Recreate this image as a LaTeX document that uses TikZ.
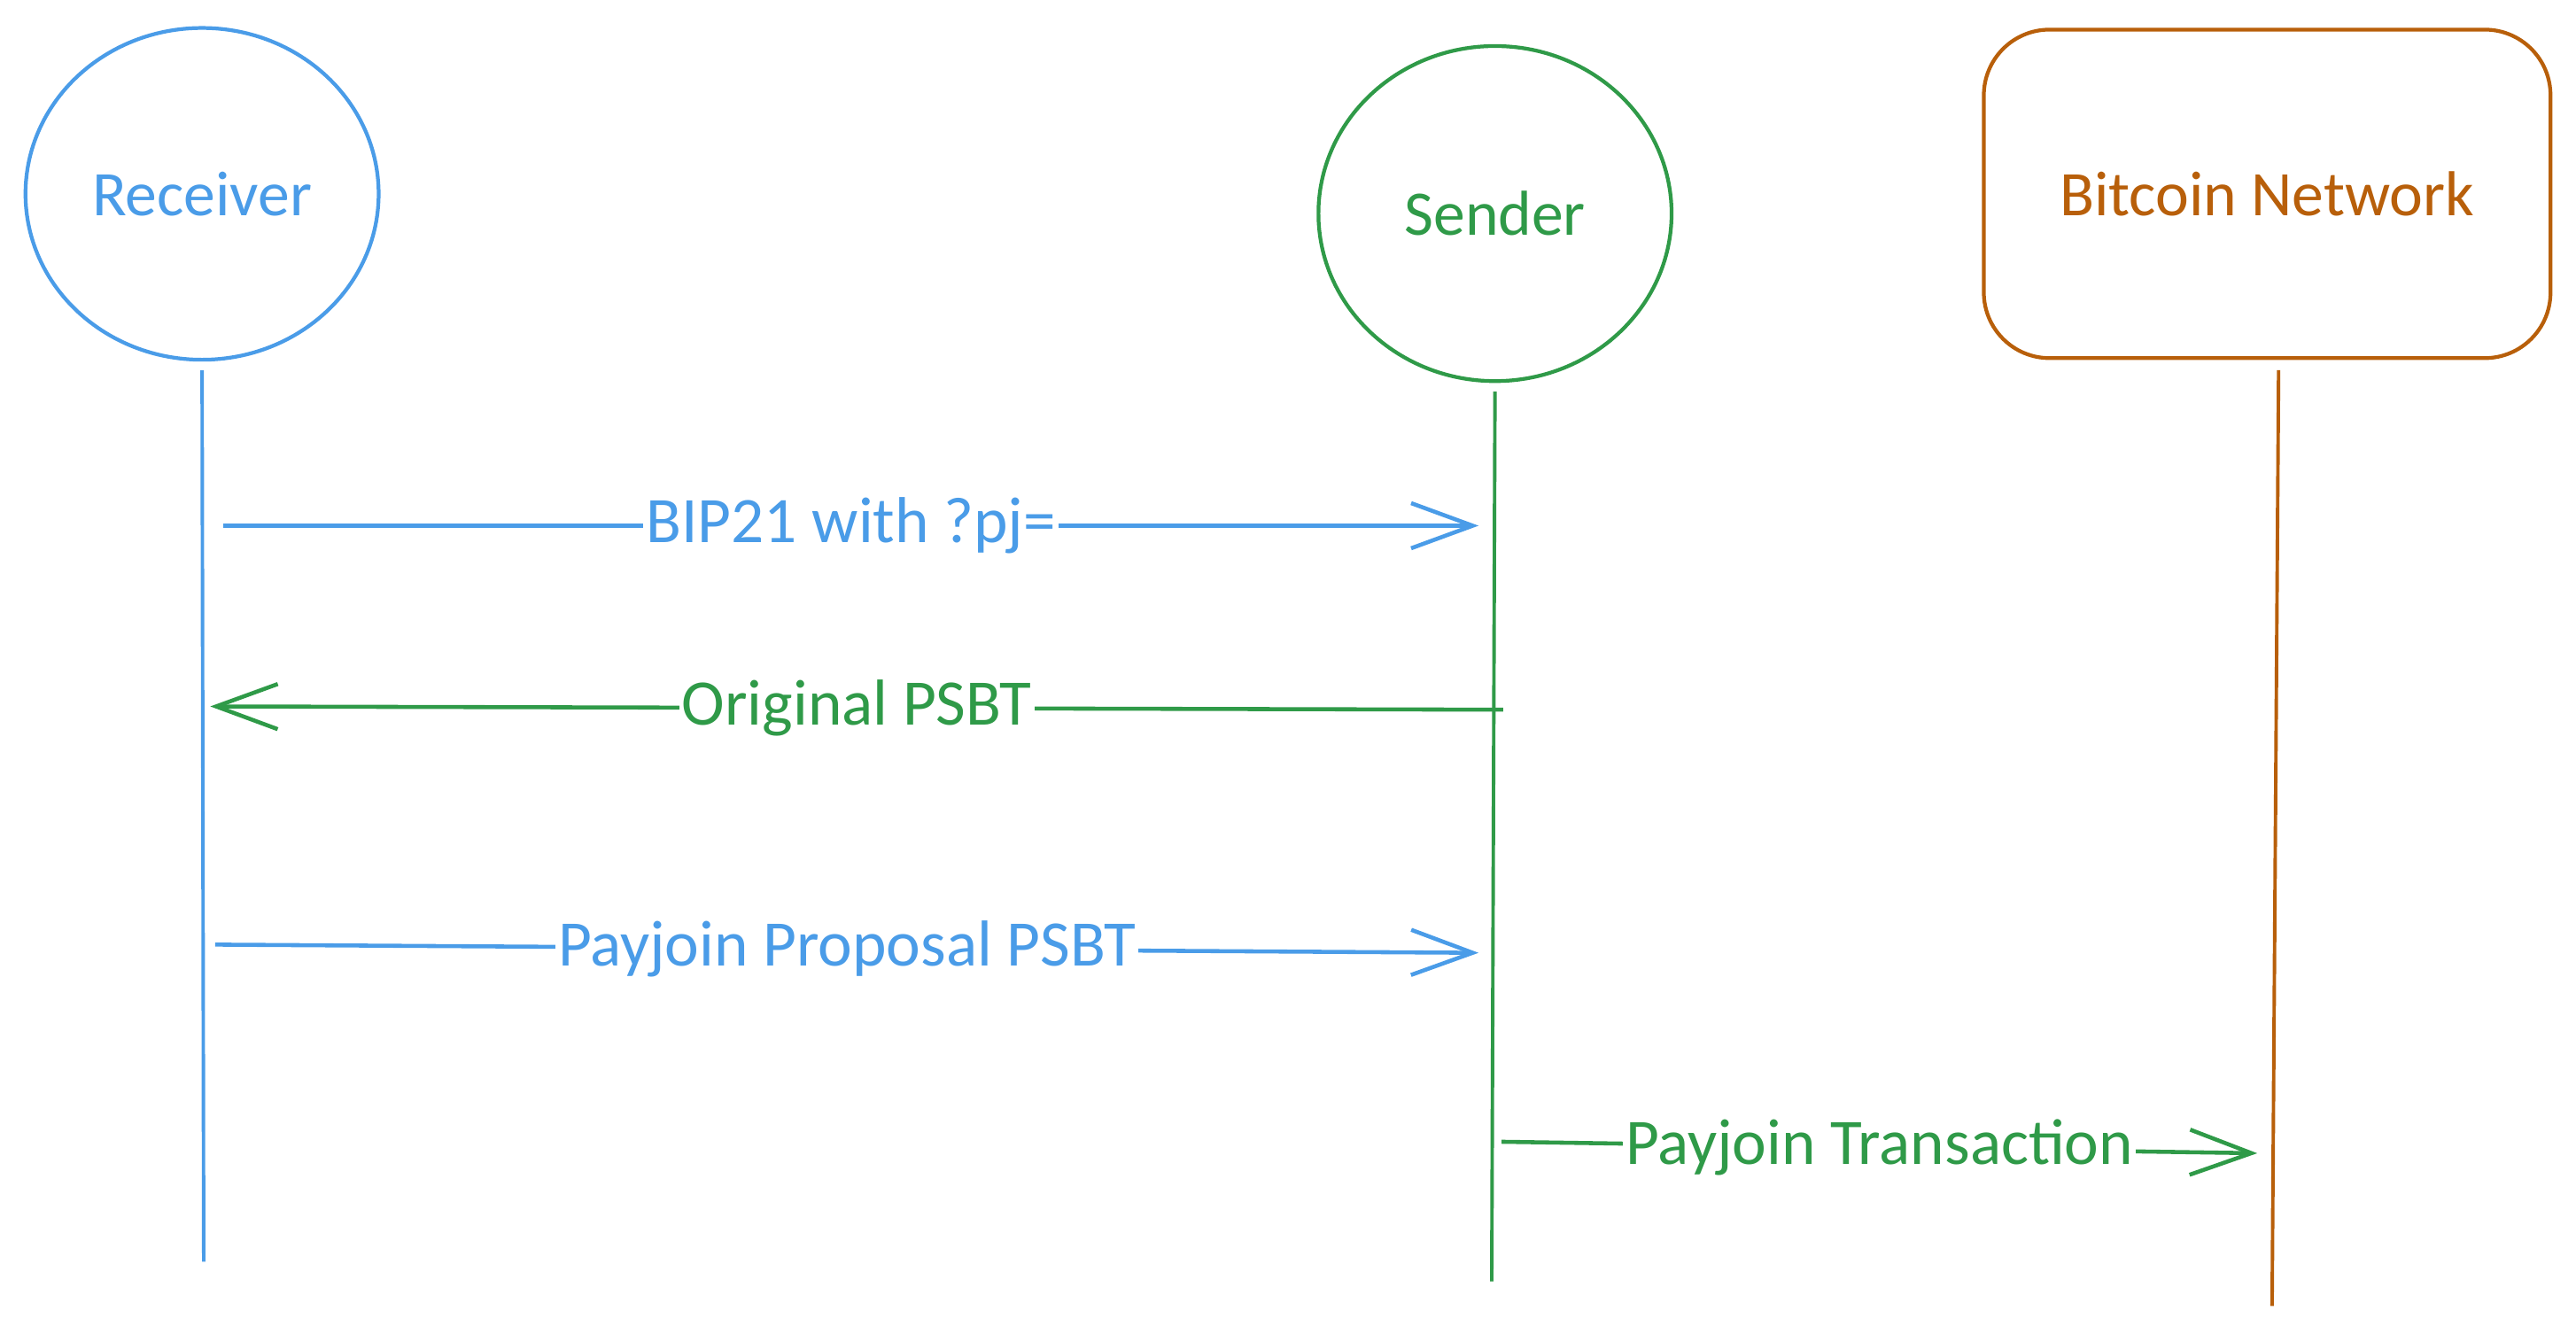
\documentclass[tikz,border=0pt]{standalone}
\usepackage{fontspec}
\setmainfont{Carlito}
\usetikzlibrary{arrows.meta,%
                shapes.geometric}
\definecolor{recblue}{HTML}{4A9CE8}
\definecolor{sndgreen}{HTML}{2F9A48}
\definecolor{netorange}{HTML}{B85F0A}

\begin{document}
\begin{tikzpicture}[x=0.02cm,y=-0.02cm]
		\useasboundingbox (0,0) rectangle (1568,812);
		\tikzset{ActorStyle/.style = {draw,line width=1.3pt,inner sep=0pt,font=\fontsize{22}{26}\selectfont},
			LifeStyle/.style = {line width=1.2pt,shorten <=3pt},
			EdgeStyle/.style = {line width=1.4pt,-{Straight Barb[length=0.75cm,width=0.55cm]}},
			LabelStyle/.style = {fill=white,inner sep=1pt,font=\fontsize{22.5}{26}\selectfont}}
		% actors
		\node[ActorStyle,ellipse,recblue,minimum width=4.3cm,minimum height=4.04cm] (Rec) at (123,118) {Receiver};
		\node[ActorStyle,ellipse,sndgreen,minimum width=4.3cm,minimum height=4.08cm] (Snd) at (910,130) {Sender};
		\node[ActorStyle,rectangle,rounded corners=0.8cm,netorange,minimum width=6.9cm,minimum height=4cm] (Net) at (1380,118) {Bitcoin Network};
		% lifelines
		\coordinate (NetTop) at (1387,220);
		\coordinate (RecEnd) at (124,768);
		\coordinate (SndEnd) at (908,780);
		\coordinate (NetEnd) at (1383,795);
		\draw[LifeStyle,recblue] (Rec.south) -- (RecEnd);
		\draw[LifeStyle,sndgreen] (Snd.south) -- (SndEnd);
		\draw[LifeStyle,netorange] (NetTop) -- (NetEnd);
		% messages
		\coordinate (A1) at (136,320);
		\coordinate (B1) at (900,320);
		\coordinate (A2) at (915,432);
		\coordinate (B2) at (128,430);
		\coordinate (A3) at (131,575);
		\coordinate (B3) at (900,580);
		\coordinate (A4) at (914,695);
		\coordinate (B4) at (1374,702);
		\draw[EdgeStyle,recblue] (A1) -- node[LabelStyle]{BIP21 with ?pj=} (B1);
		\draw[EdgeStyle,sndgreen] (A2) -- node[LabelStyle]{Original PSBT} (B2);
		\draw[EdgeStyle,recblue] (A3) -- node[LabelStyle]{Payjoin Proposal PSBT} (B3);
		%\draw[EdgeStyle,sndgreen] (A4) -- (B4);
		\draw[EdgeStyle,sndgreen] (A4) -- node[LabelStyle]{Payjoin Transaction} (B4);
	\end{tikzpicture}
\end{document}
